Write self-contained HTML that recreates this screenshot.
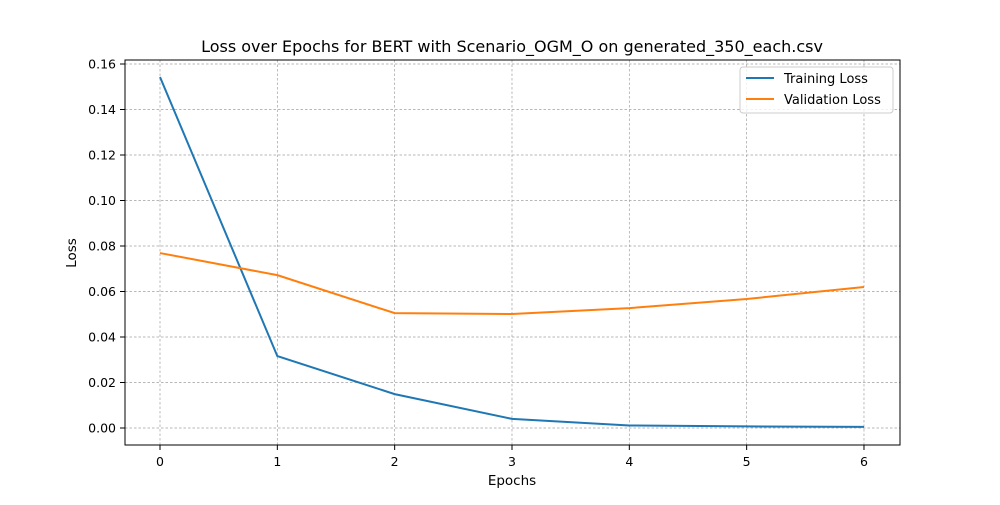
<!DOCTYPE html>
<html><head><meta charset="utf-8">
<style>
body{margin:0;background:#fff;font-family:"Liberation Sans","DejaVu Sans",sans-serif;}
svg text{font-family:"DejaVu Sans","Liberation Sans",sans-serif;}
</style></head>
<body>
<svg id="chart" width="1000" height="500">
<rect width="1000" height="500" fill="#fff"/>
<g id="grid"></g>
<g id="series"></g>
<rect x="125" y="60" width="775" height="385" fill="none" stroke="#000" stroke-width="1"/>
<g id="axes"></g>
<text x="512" y="52" text-anchor="middle" font-size="16">Loss over Epochs for BERT with Scenario_OGM_O on generated_350_each.csv</text>
<text x="512" y="485" text-anchor="middle" font-size="13.5">Epochs</text>
<text x="76" y="253" text-anchor="middle" font-size="13.5" transform="rotate(-90 76 253)">Loss</text>
<g>
<rect x="740" y="67" width="153" height="46" rx="3" fill="#fff" fill-opacity="0.8" stroke="#ccc"/>
<line x1="746" y1="78" x2="774" y2="78" stroke="#1f77b4" stroke-width="2"/>
<text x="784" y="83" font-size="13">Training Loss</text>
<line x1="746" y1="99" x2="774" y2="99" stroke="#ff7f0e" stroke-width="2"/>
<text x="784" y="104" font-size="13">Validation Loss</text>
</g>
</svg>
<script>
const epochs=[0,1,2,3,4,5,6];
const trainLoss=[0.1543,0.0316,0.0149,0.0040,0.0011,0.0007,0.0005];
const valLoss=[0.0769,0.0672,0.0505,0.0501,0.0527,0.0567,0.0620];
const yTicks=[0,0.02,0.04,0.06,0.08,0.10,0.12,0.14,0.16];
const NS="http://www.w3.org/2000/svg";
const xs=e=>160+e*117.33;
const ys=v=>428-v*2275;
function mk(t,a,p){const el=document.createElementNS(NS,t);for(const k in a)el.setAttribute(k,a[k]);p.appendChild(el);return el;}
const grid=document.getElementById('grid'),axes=document.getElementById('axes'),ser=document.getElementById('series');
epochs.forEach(e=>{
 const g=mk('line',{x1:xs(e),x2:xs(e),y1:60,y2:445,stroke:'#a0a0a0','stroke-width':0.7,'stroke-dasharray':'2.5,2'},grid);
 
 
 mk('line',{x1:xs(e),x2:xs(e),y1:445,y2:450,stroke:'#000'},axes);
 const t=mk('text',{x:xs(e),y:466,'text-anchor':'middle','font-size':12.5},axes);t.textContent=e;
 
 
});
yTicks.forEach(v=>{
 const g=mk('line',{x1:125,x2:900,y1:ys(v),y2:ys(v),stroke:'#a0a0a0','stroke-width':0.7,'stroke-dasharray':'2.5,2'},grid);
 
 
 mk('line',{x1:120,x2:125,y1:ys(v),y2:ys(v),stroke:'#000'},axes);
 const t=mk('text',{x:116,y:ys(v)+4.5,'text-anchor':'end','font-size':12.5},axes);t.textContent=v.toFixed(2);
 
 
});
function line(data,color,name){
 const p=mk('polyline',{points:data.map((v,i)=>xs(epochs[i])+','+ys(v)).join(' '),fill:'none',stroke:color,'stroke-width':2},ser);
 
 
}
line(trainLoss,'#1f77b4','training-loss-line');
line(valLoss,'#ff7f0e','validation-loss-line');
</script>
</body></html>
